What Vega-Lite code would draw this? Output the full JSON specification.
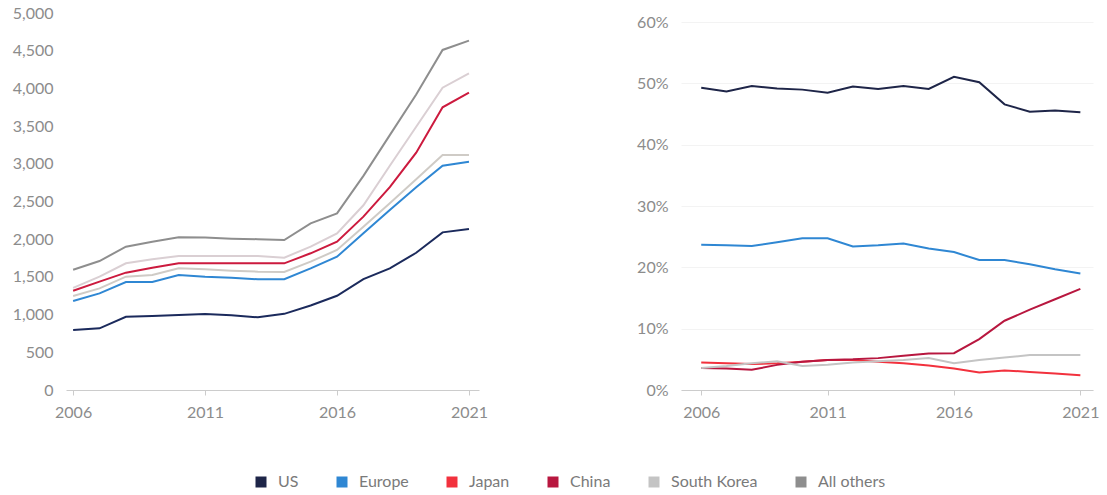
{
  "$schema": "https://vega.github.io/schema/vega-lite/v6.json",
  "background": "white",
  "padding": {"left": 12, "top": 5, "right": 8, "bottom": 2},
  "config": {
    "font": "Lato",
    "view": {"stroke": null},
    "axis": {"labelFont": "Lato", "labelFontSize": 16, "labelColor": "#8c8c8c", "title": null, "grid": false, "domainColor": "#cccccc", "tickColor": "#cccccc"},
    "legend": {"labelFont": "Lato", "labelFontSize": 16, "labelColor": "#7a7a7a", "symbolType": "square", "symbolSize": 121, "symbolStrokeWidth": 0, "columnPadding": 35, "labelOffset": 9, "padding": 0}
  },
  "datasets": {
    "regions": [
      {"region": "US", "stackOrder": 1},
      {"region": "Europe", "stackOrder": 2},
      {"region": "Japan", "stackOrder": 3},
      {"region": "China", "stackOrder": 4},
      {"region": "South Korea", "stackOrder": 5},
      {"region": "All others", "stackOrder": 6}
    ],
    "d": [
      {"year": 2006, "region": "US", "value": 796, "share": 0.493},
      {"year": 2007, "region": "US", "value": 818, "share": 0.487},
      {"year": 2008, "region": "US", "value": 972, "share": 0.496},
      {"year": 2009, "region": "US", "value": 981, "share": 0.492},
      {"year": 2010, "region": "US", "value": 995, "share": 0.490},
      {"year": 2011, "region": "US", "value": 1008, "share": 0.485},
      {"year": 2012, "region": "US", "value": 990, "share": 0.495},
      {"year": 2013, "region": "US", "value": 964, "share": 0.491},
      {"year": 2014, "region": "US", "value": 1010, "share": 0.496},
      {"year": 2015, "region": "US", "value": 1120, "share": 0.491},
      {"year": 2016, "region": "US", "value": 1250, "share": 0.511},
      {"year": 2017, "region": "US", "value": 1470, "share": 0.502},
      {"year": 2018, "region": "US", "value": 1614, "share": 0.466},
      {"year": 2019, "region": "US", "value": 1820, "share": 0.454},
      {"year": 2020, "region": "US", "value": 2091, "share": 0.456},
      {"year": 2021, "region": "US", "value": 2135, "share": 0.453},
      {"year": 2006, "region": "Europe", "value": 384, "share": 0.237},
      {"year": 2007, "region": "Europe", "value": 464, "share": 0.236},
      {"year": 2008, "region": "Europe", "value": 460, "share": 0.235},
      {"year": 2009, "region": "Europe", "value": 451, "share": 0.241},
      {"year": 2010, "region": "Europe", "value": 530, "share": 0.2475},
      {"year": 2011, "region": "Europe", "value": 495, "share": 0.2475},
      {"year": 2012, "region": "Europe", "value": 500, "share": 0.234},
      {"year": 2013, "region": "Europe", "value": 504, "share": 0.236},
      {"year": 2014, "region": "Europe", "value": 460, "share": 0.239},
      {"year": 2015, "region": "Europe", "value": 494, "share": 0.231},
      {"year": 2016, "region": "Europe", "value": 518, "share": 0.225},
      {"year": 2017, "region": "Europe", "value": 608, "share": 0.212},
      {"year": 2018, "region": "Europe", "value": 773, "share": 0.212},
      {"year": 2019, "region": "Europe", "value": 870, "share": 0.205},
      {"year": 2020, "region": "Europe", "value": 884, "share": 0.197},
      {"year": 2021, "region": "Europe", "value": 893, "share": 0.190},
      {"year": 2006, "region": "Japan", "value": 67, "share": 0.045},
      {"year": 2007, "region": "Japan", "value": 66, "share": 0.0435},
      {"year": 2008, "region": "Japan", "value": 71, "share": 0.0425},
      {"year": 2009, "region": "Japan", "value": 93, "share": 0.0435},
      {"year": 2010, "region": "Japan", "value": 89, "share": 0.046},
      {"year": 2011, "region": "Japan", "value": 97, "share": 0.049},
      {"year": 2012, "region": "Japan", "value": 93, "share": 0.049},
      {"year": 2013, "region": "Japan", "value": 101, "share": 0.046},
      {"year": 2014, "region": "Japan", "value": 95, "share": 0.0435},
      {"year": 2015, "region": "Japan", "value": 88, "share": 0.040},
      {"year": 2016, "region": "Japan", "value": 89, "share": 0.035},
      {"year": 2017, "region": "Japan", "value": 88, "share": 0.0285},
      {"year": 2018, "region": "Japan", "value": 89, "share": 0.032},
      {"year": 2019, "region": "Japan", "value": 104, "share": 0.0295},
      {"year": 2020, "region": "Japan", "value": 142, "share": 0.027},
      {"year": 2021, "region": "Japan", "value": 89, "share": 0.024},
      {"year": 2006, "region": "China", "value": 70, "share": 0.036},
      {"year": 2007, "region": "China", "value": 89, "share": 0.035},
      {"year": 2008, "region": "China", "value": 53, "share": 0.033},
      {"year": 2009, "region": "China", "value": 97, "share": 0.041},
      {"year": 2010, "region": "China", "value": 66, "share": 0.046},
      {"year": 2011, "region": "China", "value": 80, "share": 0.049},
      {"year": 2012, "region": "China", "value": 97, "share": 0.050},
      {"year": 2013, "region": "China", "value": 111, "share": 0.052},
      {"year": 2014, "region": "China", "value": 115, "share": 0.056},
      {"year": 2015, "region": "China", "value": 111, "share": 0.0595},
      {"year": 2016, "region": "China", "value": 110, "share": 0.060},
      {"year": 2017, "region": "China", "value": 133, "share": 0.083},
      {"year": 2018, "region": "China", "value": 214, "share": 0.113},
      {"year": 2019, "region": "China", "value": 353, "share": 0.131},
      {"year": 2020, "region": "China", "value": 632, "share": 0.148},
      {"year": 2021, "region": "China", "value": 826, "share": 0.165},
      {"year": 2006, "region": "South Korea", "value": 38, "share": 0.036},
      {"year": 2007, "region": "South Korea", "value": 66, "share": 0.039},
      {"year": 2008, "region": "South Korea", "value": 124, "share": 0.0435},
      {"year": 2009, "region": "South Korea", "value": 111, "share": 0.047},
      {"year": 2010, "region": "South Korea", "value": 97, "share": 0.039},
      {"year": 2011, "region": "South Korea", "value": 97, "share": 0.041},
      {"year": 2012, "region": "South Korea", "value": 97, "share": 0.045},
      {"year": 2013, "region": "South Korea", "value": 97, "share": 0.047},
      {"year": 2014, "region": "South Korea", "value": 75, "share": 0.049},
      {"year": 2015, "region": "South Korea", "value": 88, "share": 0.052},
      {"year": 2016, "region": "South Korea", "value": 111, "share": 0.0435},
      {"year": 2017, "region": "South Korea", "value": 151, "share": 0.049},
      {"year": 2018, "region": "South Korea", "value": 285, "share": 0.053},
      {"year": 2019, "region": "South Korea", "value": 345, "share": 0.057},
      {"year": 2020, "region": "South Korea", "value": 261, "share": 0.057},
      {"year": 2021, "region": "South Korea", "value": 257, "share": 0.057},
      {"year": 2006, "region": "All others", "value": 240, "share": null},
      {"year": 2007, "region": "All others", "value": 207, "share": null},
      {"year": 2008, "region": "All others", "value": 221, "share": null},
      {"year": 2009, "region": "All others", "value": 234, "share": null},
      {"year": 2010, "region": "All others", "value": 248, "share": null},
      {"year": 2011, "region": "All others", "value": 244, "share": null},
      {"year": 2012, "region": "All others", "value": 230, "share": null},
      {"year": 2013, "region": "All others", "value": 223, "share": null},
      {"year": 2014, "region": "All others", "value": 234, "share": null},
      {"year": 2015, "region": "All others", "value": 309, "share": null},
      {"year": 2016, "region": "All others", "value": 265, "share": null},
      {"year": 2017, "region": "All others", "value": 390, "share": null},
      {"year": 2018, "region": "All others", "value": 405, "share": null},
      {"year": 2019, "region": "All others", "value": 428, "share": null},
      {"year": 2020, "region": "All others", "value": 500, "share": null},
      {"year": 2021, "region": "All others", "value": 433, "share": null}
    ]
  },
  "data": {"name": "d"},
  "bounds": "flush",
  "spacing": 202,
  "resolve": {"scale": {"color": "independent"}, "legend": {"color": "independent"}},
  "hconcat": [
    {
      "width": 413,
      "height": 377,
      "transform": [
        {"lookup": "region", "from": {"data": {"name": "regions"}, "key": "region", "fields": ["stackOrder"]}},
        {"stack": "value", "groupby": ["year"], "sort": [{"field": "stackOrder", "order": "ascending"}], "as": ["v0", "v1"]}
      ],
      "mark": {"type": "line", "strokeWidth": 2},
      "encoding": {
        "x": {"field": "year", "type": "quantitative", "scale": {"domain": [2005.73, 2021.38], "nice": false, "zero": false},
              "axis": {"values": [2006, 2011, 2016, 2021], "format": "d", "domain": true, "ticks": true, "tickSize": 5, "labelPadding": 9}},
        "y": {"field": "v1", "type": "quantitative", "scale": {"domain": [0, 5000], "nice": false},
              "axis": {"values": [0, 500, 1000, 1500, 2000, 2500, 3000, 3500, 4000, 4500, 5000], "format": ",.0f", "domain": false, "ticks": false, "labelPadding": 13}},
        "color": {"field": "region", "type": "nominal",
                   "scale": {"domain": ["US", "Europe", "Japan", "China", "South Korea", "All others"],
                             "range": ["#1b2a5c", "#2f87d3", "#cfcbc6", "#cc1a3e", "#dacfd3", "#8e8e8e"]},
                   "legend": null}
      }
    },
    {
      "width": 412,
      "height": 377,
      "transform": [{"filter": "datum.share != null"}],
      "mark": {"type": "line", "strokeWidth": 2},
      "encoding": {
        "x": {"field": "year", "type": "quantitative", "scale": {"domain": [2005.2, 2021.5], "nice": false, "zero": false},
              "axis": {"values": [2006, 2011, 2016, 2021], "format": "d", "domain": true, "ticks": true, "tickSize": 5, "labelPadding": 9}},
        "y": {"field": "share", "type": "quantitative", "scale": {"domain": [0, 0.615], "nice": false},
              "axis": {"values": [0, 0.1, 0.2, 0.3, 0.4, 0.5, 0.6], "format": ".0%", "domain": false, "ticks": false, "labelPadding": 13, "grid": true, "gridColor": "#f3f3f3"}},
        "color": {"field": "region", "type": "nominal",
                  "scale": {"domain": ["US", "Europe", "Japan", "China", "South Korea", "All others"],
                            "range": ["#1e2548", "#2f87d3", "#f2313d", "#b8173f", "#c4c4c4", "#8e8e8e"]},
                  "legend": {"orient": "none", "direction": "horizontal", "title": null, "legendX": -428, "legendY": 461,
                             "encode": {"symbols": {"update": {
                               "fill": {"signal": "datum.value === 'US' ? '#1e2548' : datum.value === 'Europe' ? '#2f87d3' : datum.value === 'Japan' ? '#f2313d' : datum.value === 'China' ? '#b8173f' : datum.value === 'South Korea' ? '#c4c4c4' : '#8e8e8e'"},
                               "fillOpacity": {"value": 1},
                               "strokeWidth": {"value": 0}}}}}}
      }
    }
  ]
}
